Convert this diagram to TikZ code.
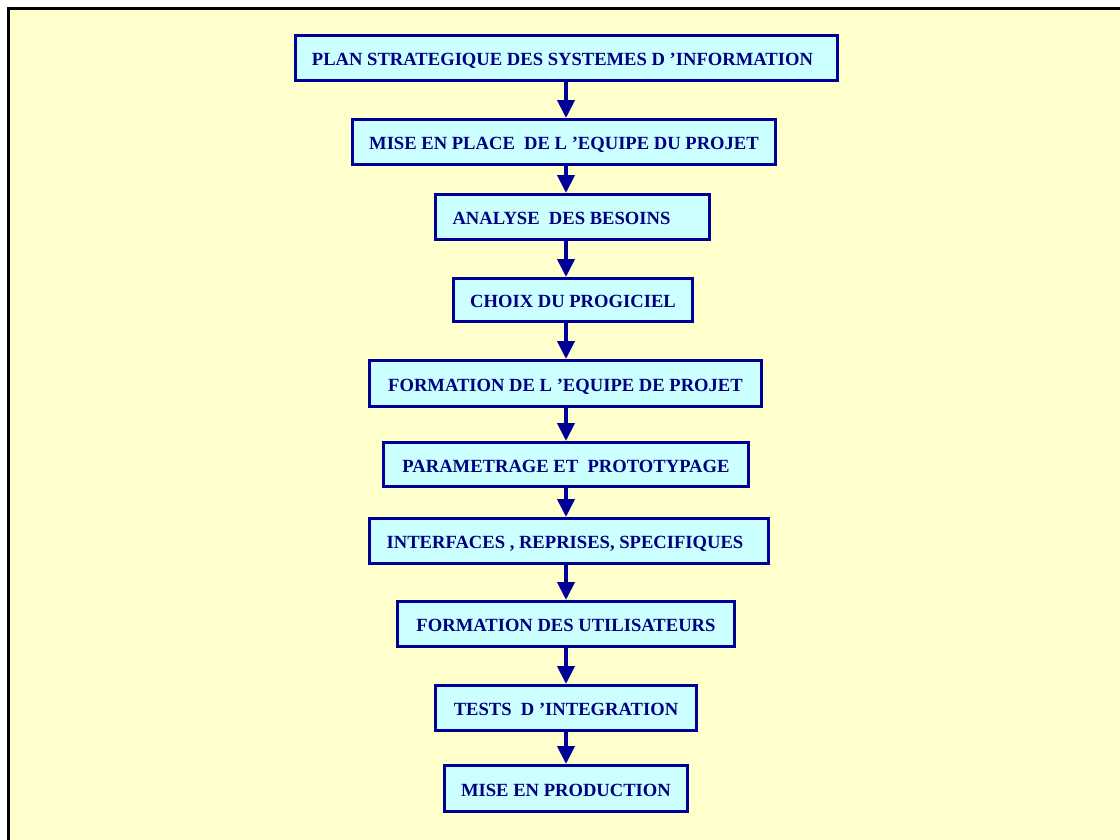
\documentclass[tikz,border=0pt]{standalone}
\usepackage{fontspec}
\setmainfont{Liberation Serif}
\usetikzlibrary{arrows.meta}
\definecolor{bgyellow}{HTML}{FFFFCC}
\definecolor{boxfill}{HTML}{CCFFFF}
\definecolor{boxline}{HTML}{000099}
\definecolor{txtnavy}{HTML}{000080}
\begin{document}
\begin{tikzpicture}[x=1pt,y=-1pt,
  stepbox/.style={rectangle, draw=boxline, line width=3pt, fill=boxfill,
    inner sep=0pt, minimum height=45pt, text=txtnavy,
    font=\fontsize{18.6}{20}\selectfont\bfseries,
    text height=15.5pt, text depth=0pt},
  flow/.style={draw=boxline, line width=4pt,
    -{Triangle[width=17pt,length=18pt]}}]
\useasboundingbox (0,0) rectangle (1120,839);
\fill[white] (0,0) rectangle (1120,839);
\begin{scope}
\clip (0,0) rectangle (1120,839);
\fill[bgyellow] (8,8) rectangle (1130,850);
\draw[black, line width=3pt] (8,850) -- (8,8) -- (1130,8);
\end{scope}
\coordinate (ax) at (566,0);
\node[stepbox, minimum width=542pt] (b1) at (566.5,58) {\hspace*{-8pt}PLAN STRATEGIQUE DES SYSTEMES D ’INFORMATION};
\node[stepbox, minimum width=423pt] (b2) at (564,142) {MISE EN PLACE\ \ DE L ’EQUIPE DU PROJET};
\node[stepbox, minimum width=274pt] (b3) at (572.5,217) {\hspace*{-22pt}ANALYSE\ \ DES BESOINS};
\node[stepbox, minimum width=239pt, minimum height=43pt] (b4) at (573,300) {CHOIX DU PROGICIEL};
\node[stepbox, minimum width=392pt, minimum height=46pt] (b5) at (565.5,383.5) {FORMATION DE L ’EQUIPE DE PROJET};
\node[stepbox, minimum width=365pt, minimum height=44pt] (b6) at (566,464.5) {PARAMETRAGE ET\ \ PROTOTYPAGE};
\node[stepbox, minimum width=399pt] (b7) at (569,541) {\hspace*{-8pt}INTERFACES , REPRISES, SPECIFIQUES};
\node[stepbox, minimum width=337pt] (b8) at (566,624) {FORMATION DES UTILISATEURS};
\node[stepbox, minimum width=261pt] (b9) at (566,708) {TESTS\ \ D ’INTEGRATION};
\node[stepbox, minimum width=243pt, minimum height=46pt] (b10) at (566,788.5) {MISE EN PRODUCTION};
\foreach \a/\b in {b1/b2,b2/b3,b3/b4,b4/b5,b5/b6,b6/b7,b7/b8,b8/b9,b9/b10}
  \draw[flow] (\a.south -| ax) -- (\b.north -| ax);
\end{tikzpicture}
\end{document}
